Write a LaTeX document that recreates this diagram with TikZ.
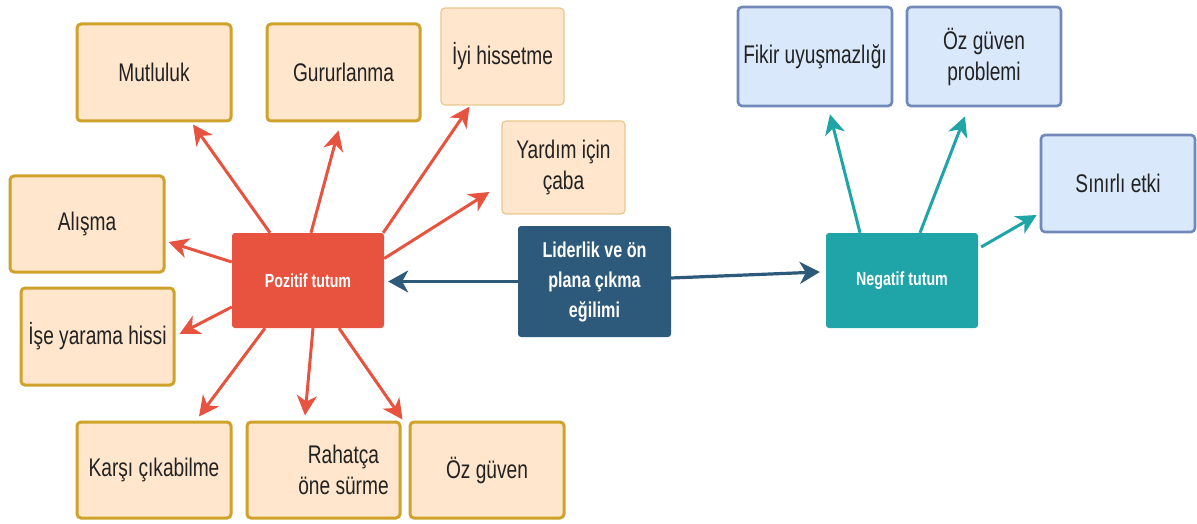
\documentclass[tikz,border=0pt]{standalone}
\usepackage{fontspec}
\setmainfont{Liberation Sans}[FakeStretch=0.75]
\usetikzlibrary{arrows.meta}

\definecolor{peachfill}{HTML}{FFE6CC}
\definecolor{goldline}{HTML}{D0A22C}
\definecolor{paleline}{HTML}{E9C78E}
\definecolor{bluefill}{HTML}{DAE8FC}
\definecolor{blueline}{HTML}{7189B8}
\definecolor{posred}{HTML}{E8533F}
\definecolor{navy}{HTML}{2D5A7A}
\definecolor{tealc}{HTML}{1FA4A7}
\definecolor{ink}{HTML}{222222}

\tikzset{
  box/.style={rectangle, rounded corners=4pt, inner sep=0pt, align=center,
    text=ink, font=\fontsize{25.5}{31}\selectfont},
  peach/.style={box, fill=peachfill, draw=goldline, line width=3pt},
  peachlight/.style={box, fill=peachfill, draw=paleline, line width=1.2pt},
  bluebox/.style={box, fill=bluefill, draw=blueline, line width=2.6pt},
  hub/.style={rectangle, rounded corners=3pt, inner sep=0pt, align=center,
    text=white, font=\bfseries\fontsize{19}{24}\selectfont},
  tipstyle/.style={-{Stealth[length=20pt,width=20pt,inset=6pt]}},
  redarrow/.style={tipstyle, draw=posred, line width=3pt},
  navyarrow/.style={-{Stealth[length=20pt,width=22pt,inset=6pt]}, draw=navy, line width=3.2pt},
  tealarrow/.style={tipstyle, draw=tealc, line width=3pt},
}

\begin{document}
\begin{tikzpicture}[x=1pt, y=-1pt]
\useasboundingbox (0,0) rectangle (1197,524);

% central node and the two attitude hubs
\node[hub, fill=navy, minimum width=153pt, minimum height=111pt,
      font=\bfseries\fontsize{21.5}{30}\selectfont]
  (lid) at (594.5,281.5) {Liderlik ve ön\\plana çıkma\\eğilimi};
\node[hub, fill=posred, minimum width=152pt, minimum height=95pt]
  (poz) at (308,280.5) {Pozitif tutum};
\node[hub, fill=tealc, minimum width=152pt, minimum height=95pt]
  (neg) at (902,280.5) {Negatif tutum};

% positive outcomes
\node[peach, minimum width=154pt, minimum height=97pt] (mut) at (154,72.5) {Mutluluk};
\node[peach, minimum width=153pt, minimum height=97pt] (gur) at (343.5,72.5) {Gururlanma};
\node[peachlight, minimum width=123pt, minimum height=97pt] (iyi) at (502.5,56.5) {İyi hissetme};
\node[peachlight, minimum width=123pt, minimum height=93pt] (yar) at (563.5,167.5) {Yardım için\\çaba};
\node[peach, minimum width=154pt, minimum height=96pt] (ali) at (87,224) {Alışma};
\node[peach, minimum width=153pt, minimum height=97pt] (ise) at (97.5,336.5) {İşe yarama hissi};
\node[peach, minimum width=154pt, minimum height=96pt] (kar) at (154,470) {Karşı çıkabilme};
\node[peach, minimum width=153pt, minimum height=96pt] (rah) at (323.5,470)
  {\hspace*{40pt}Rahatça\\\hspace*{40pt}öne sürme};
\node[peach, minimum width=154pt, minimum height=96pt] (oz) at (487,470) {Öz güven};

% negative outcomes
\node[bluebox, minimum width=154pt, minimum height=99pt] (fik) at (815,56.5) {Fikir uyuşmazlığı};
\node[bluebox, minimum width=154pt, minimum height=99pt] (ozp) at (984,56.5) {Öz güven\\problemi};
\node[bluebox, minimum width=154pt, minimum height=97pt] (sin) at (1118,183.5) {Sınırlı etki};

% central connectors
\draw[navyarrow] (lid.west) -- ([xshift=4pt]lid.west -| poz.east);
\draw[navyarrow] ([yshift=3.5pt]lid.east) -- ([xshift=-6pt,yshift=8.5pt]neg.west);

% positive attitude connectors
\draw[redarrow] ([xshift=-38pt]poz.north) -- ([xshift=39pt,yshift=-2pt]mut.south);
\draw[redarrow] ([xshift=3pt]poz.north) -- ([xshift=-5pt,yshift=-8pt]gur.south);
\draw[redarrow] ([xshift=-1pt]poz.north east) -- ([xshift=-33pt,yshift=-1pt]iyi.south);
\draw[redarrow] ([yshift=22pt]poz.east) -- ([xshift=-12pt,yshift=-24.5pt]yar.west);
\draw[redarrow] ([yshift=18.5pt]poz.west) -- ([xshift=3pt,yshift=-18pt]ali.east);
\draw[redarrow] ([yshift=-26.5pt]poz.west) -- ([xshift=4pt,yshift=2.5pt]ise.east);
\draw[redarrow] ([xshift=-43pt]poz.south) -- ([xshift=45pt,yshift=4pt]kar.north);
\draw[redarrow] ([xshift=5pt]poz.south) -- ([xshift=-18.5pt,yshift=5pt]rah.north);
\draw[redarrow] ([xshift=31pt]poz.south) -- ([xshift=-6pt,yshift=1pt]oz.north west);

% negative attitude connectors
\draw[tealarrow] ([xshift=-42pt]neg.north) -- ([xshift=15pt,yshift=-7pt]fik.south);
\draw[tealarrow] ([xshift=18pt]neg.north) -- ([xshift=-19pt,yshift=-9pt]ozp.south);
\draw[tealarrow] ([xshift=3pt,yshift=33.5pt]neg.east) -- ([xshift=-3pt,yshift=-31.5pt]sin.west);
\end{tikzpicture}
\end{document}
